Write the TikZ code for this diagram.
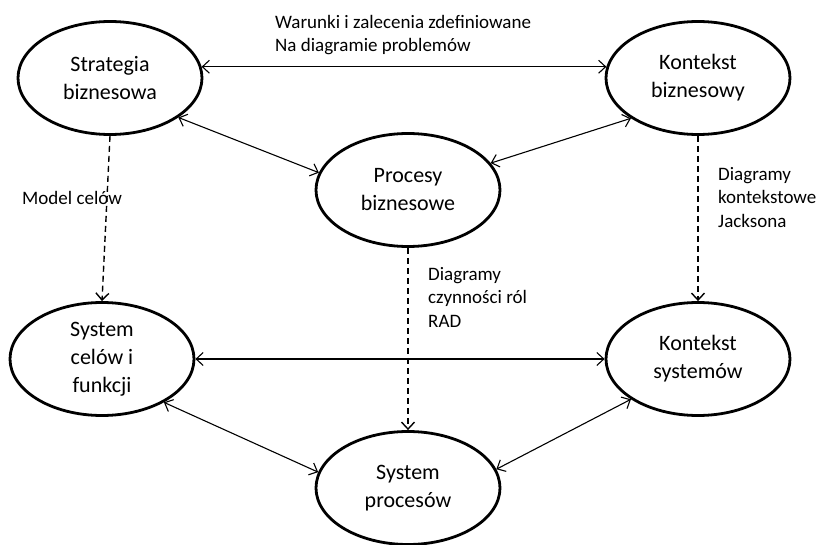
\documentclass[tikz,border=0pt]{standalone}
\usepackage{fontspec}
\setmainfont{Carlito}
\usetikzlibrary{shapes.geometric,arrows.meta}
\begin{document}
\begin{tikzpicture}[x=1pt,y=-1pt,
  ell/.style={ellipse,draw,line width=2.8pt,minimum width=184pt,minimum height=113pt,inner sep=0pt,align=center,font=\fontsize{22}{28}\selectfont},
  lab/.style={align=left,font=\fontsize{19}{23.5}\selectfont,inner sep=0pt},
  barb/.tip={Straight Barb[length=7pt,width=13pt]},
  both/.style={barb-barb,line width=1.1pt},
  dashone/.style={-barb,line width=1.4pt,dash pattern=on 6pt off 4pt}]
\useasboundingbox (0,0) rectangle (820,545);

\node[ell] (strat) at (110,78) {Strategia\\biznesowa};
\node[ell] (kb) at (698,78) {Kontekst\\biznesowy};
\node[ell] (proc) at (408,190) {Procesy\\biznesowe};
\node[ell] (sc) at (102,359) {System\\celów i\\funkcji};
\node[ell] (ks) at (698,359) {Kontekst\\systemów};
\node[ell] (sp) at (408,488) {System\\procesów};

\draw[both] (strat.7) -- (kb.173);
\draw[both] (strat.-30) -- (proc.169);
\draw[both] (kb.-149) -- (proc.18);
\draw[both] (sc.east) -- (ks.west);
\draw[both] (sc.-35) -- (sp.170);
\draw[both] (ks.-149) -- (sp.12);

\draw[dashone] (strat.south) -- (sc.north);
\draw[dashone] (kb.south) -- (ks.north);
\draw[dashone] (proc.south) -- (sp.north);

\node[lab,anchor=north west] (l1) at (275,15) {Warunki i zalecenia zdefiniowane\\Na diagramie problemów};
\node[lab,anchor=base west] (l2) at (22,205) {Model celów};
\node[lab,anchor=north west] (l3) at (718,167) {Diagramy\\kontekstowe\\Jacksona};
\node[lab,anchor=north west] (l4) at (428,267) {Diagramy\\czynności ról\\RAD};
\end{tikzpicture}
\end{document}
